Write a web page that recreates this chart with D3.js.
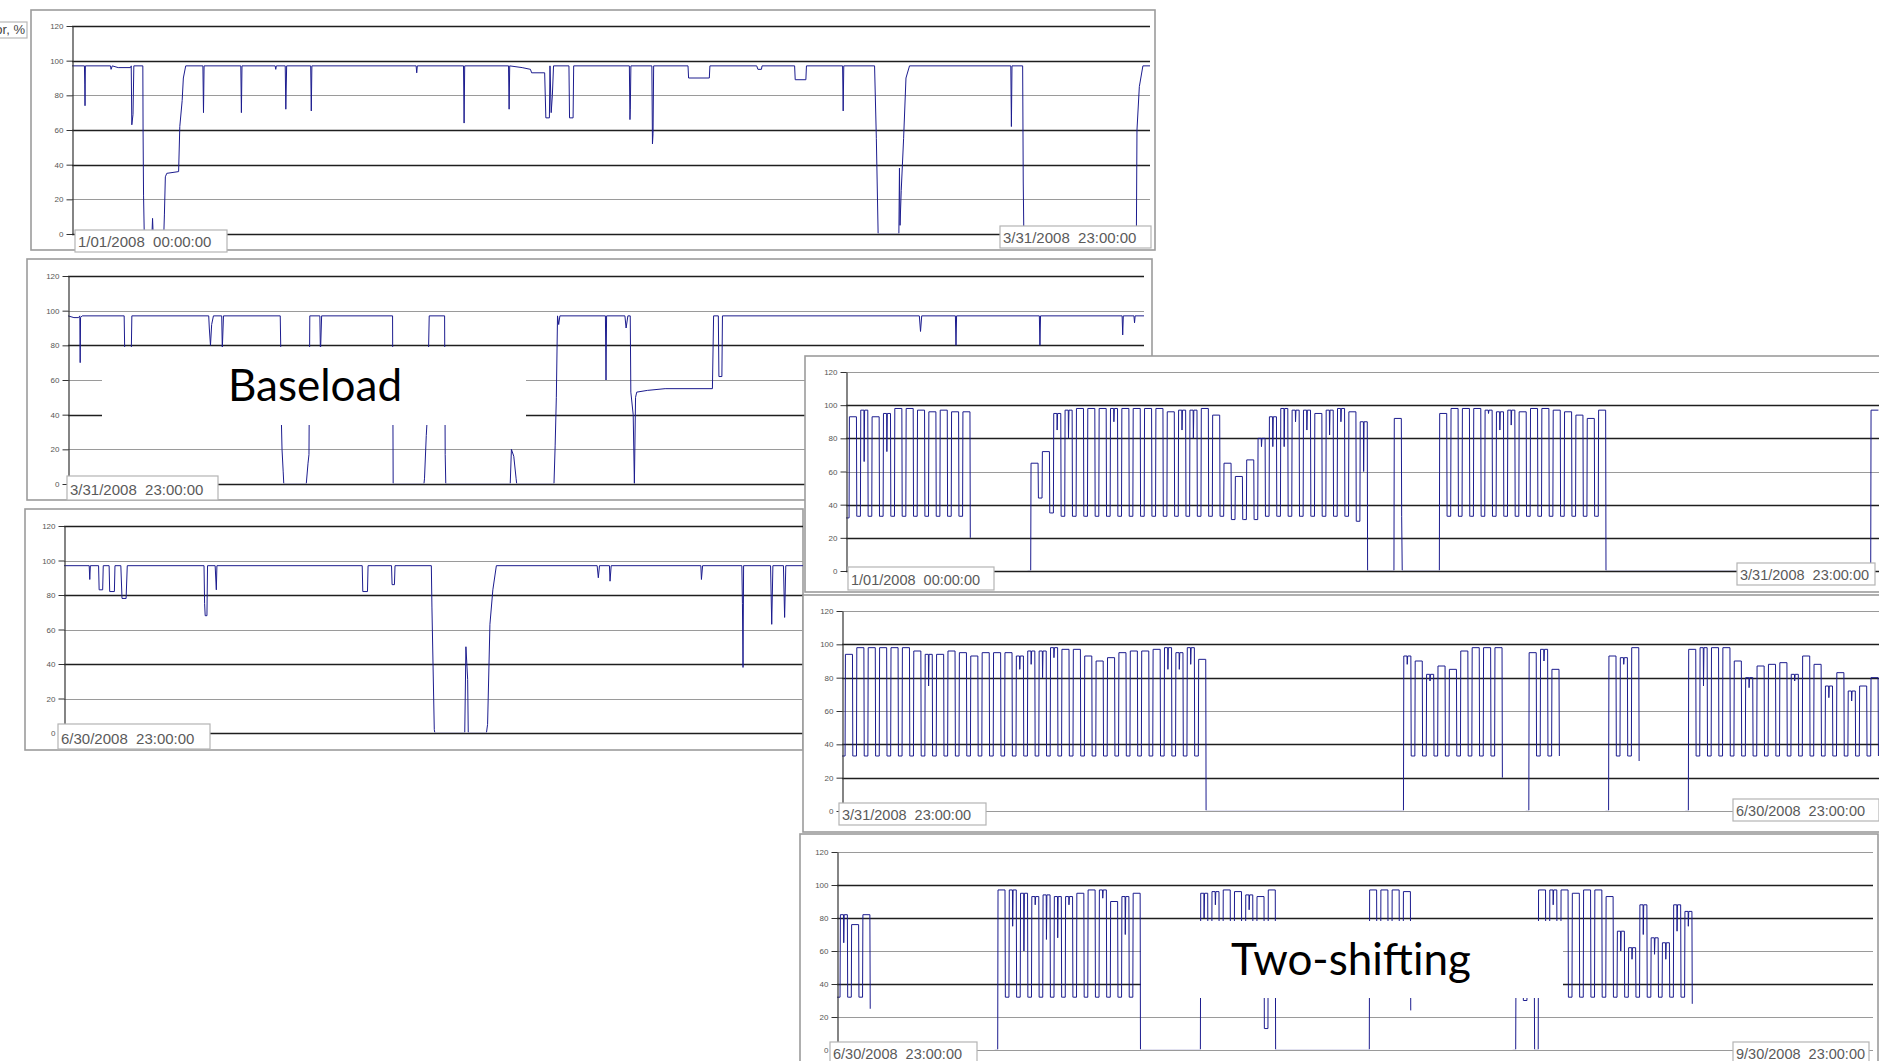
<!DOCTYPE html>
<html><head><meta charset="utf-8">
<script src="https://cdn.jsdelivr.net/npm/d3@7"></script>
<style>
body{margin:0;background:#fff;overflow:hidden}
svg{display:block}
</style>
</head><body>
<svg id="chart" width="1879" height="1061"></svg>
<script>
// ---------------- DATA ----------------
const yTicks = [0, 20, 40, 60, 80, 100, 120];
const axisTitle = "Load factor, %";
const dateLabels = ["1/01/2008  00:00:00", "3/31/2008  23:00:00", "6/30/2008  23:00:00", "9/30/2008  23:00:00"];
const groupTitles = ["Baseload", "Two-shifting"];
const quarterDays = [91, 91, 92];

// Baseload unit: [day of quarter, load factor %]
const baseQ1 = [[0,97],[1.05,97],[1.08,86],[1.1,74],[1.13,97],[3.25,97],[3.3,95],[3.4,97],[3.9,96],[4.95,96],[5.0,97],[5.05,63],[5.15,69],[5.22,97],[5.98,97],[6.0,60],[6.04,22],[6.1,0],[6.75,0],[6.8,9],[6.85,0],[7.75,0],[7.8,11],[7.88,33],[8.0,35],[9.0,36],[9.1,62],[9.3,77],[9.4,90],[9.6,97],
  [11.05,97],[11.1,70],[11.15,97],[14.25,97],[14.3,70],[14.35,97],[17.15,97],[17.2,95],[17.25,97],[18.0,97],[18.05,72],[18.12,97],[20.15,97],[20.2,71],[20.25,97],[29.05,97],[29.1,93],[29.15,97],[33.05,97],[33.1,64],[33.15,97],[36.85,97],[36.9,72],[36.95,97],[38.0,96],[38.7,95],[38.8,93],[39.9,93],[40.0,67],[40.3,67],[40.35,97],[40.45,70],[40.55,80],[40.65,97],[41.95,97],[42.0,67],[42.3,67],[42.35,97],
  [47.05,97],[47.1,66],[47.13,72],[47.18,97],[48.95,97],[49.0,52],[49.05,58],[49.1,97],[52.0,97],[52.05,90],[53.8,90],[53.85,97],[57.8,97],[57.9,95],[58.2,95],[58.25,97],[61.0,97],[61.05,89],[61.95,89],[62.0,97],[65.05,97],[65.1,71],[65.15,97],[67.75,97],[67.9,55],[68.05,0],[69.8,0],[69.85,38],[69.9,5],[70.0,25],[70.2,55],[70.4,90],[70.7,97],[79.25,97],[79.3,62],[79.35,97],[80.25,97],[80.3,30],[80.35,0],[89.85,0],[89.9,60],[90.1,85],[90.4,97],[91,97]];

const baseQ2 = [[0,97],[0.5,96],[0.9,96],[1.0,97],[1.03,70],[1.06,96],[1.2,97],[4.75,97],[4.8,75],[5.35,75],[5.4,97],[11.9,97],[11.95,90],[12.05,80],[12.15,92],[12.3,97],[13.0,97],[13.05,78],[13.15,97],[17.95,97],[18.0,75],[18.05,35],[18.1,20],[18.2,7],[18.25,0],[20.15,0],[20.3,12],[20.38,17],[20.45,97],[21.3,97],[21.35,75],[21.45,97],[27.45,97],[27.5,0],[30.1,0],[30.15,3],[30.3,28],[30.4,40],[30.5,80],[30.55,97],[31.85,97],[31.9,17],[31.95,0],[37.4,0],[37.5,20],[37.7,16],[37.9,3],[37.95,0],[41.1,0],[41.2,22],[41.3,50],[41.4,97],[41.5,92],[41.6,97],[45.45,97],[45.5,60],[45.55,97],
  [47.1,97],[47.2,90],[47.35,97],[47.55,97],[47.6,53],[47.8,40],[47.9,0],[48.0,50],[48.1,53],[49.0,54],[50.5,55],[54.5,55],[54.6,97],[55.0,97],[55.05,62],[55.3,62],[55.35,97],[72.0,97],[72.1,88],[72.2,97],[75.05,97],[75.1,80],[75.15,97],[82.15,97],[82.2,80],[82.25,97],[89.15,97],[89.2,86],[89.25,97],[90.15,97],[90.2,93],[90.25,97],[91,97]];

const baseQ3 = [[0,97],[2.15,97],[2.2,89],[2.25,97],[2.95,97],[3.0,83],[3.3,83],[3.35,97],[3.85,97],[3.9,82],[4.3,82],[4.35,97],[4.85,97],[4.95,78],[5.3,78],[5.4,97],[11.95,97],[12.0,75],[12.05,68],[12.2,68],[12.25,97],[12.9,97],[13.0,83],[13.05,97],[25.45,97],[25.5,82],[25.9,82],[25.95,97],[27.95,97],[28.0,86],[28.2,86],[28.25,97],[31.35,97],[31.4,73],[31.6,2],[31.65,0],[34.2,0],[34.3,50],[34.45,31],[34.5,0],[36.05,0],[36.15,5],[36.35,63],[36.6,83],[36.9,97],[45.5,97],[45.6,90],[45.7,97],[46.55,97],[46.6,88],[46.7,97],[54.35,97],[54.4,89],[54.5,97],[57.85,97],[57.9,75],[57.95,38],[58.0,97],[60.3,97],[60.4,63],[60.5,97],[61.4,97],[61.5,67],[61.6,97],[75.0,97],[75.1,90],[75.2,97],[92,97]];

// Two-shifting unit: daily peak, trough at end of day (null = no data, 0 = off), mid-day dips [day, value]
const twoQ1Peak = [93,97,93,95,98,98,97,96,97,96,96, null,null,null,null,null, 65,72,
  95,97,98,98,98,98,98,98,98,98,96,97,97,98,94,65,57,67,80,93,98,97,97,95,97,98,96,90,
  0,0,92,0,0,0, 95,98,98,98,97,96,97,96,98,98,97,96,94,92,97,
  0,0,0,0,0,0,0,0,0,0,0,0,0,0,0,0,0,0,0,0,0,0,0, 97];
const twoQ1Low = [33,33,33,33,33,33,33,33,33,33,20, null,null,null,null,null, 44,35,
  33,33,33,33,33,33,33,33,33,33,33,33,33,33,33,31,31,31,33,33,33,33,33,33,33,33,30,0,
  0,0,33,0,0,0, 33,33,33,33,33,33,33,33,33,33,33,33,33,33,0,
  0,0,0,0,0,0,0,0,0,0,0,0,0,0,0,0,0,0,0,0,0,0,0, 97];
const twoQ1Dip = [[1,66],[3,72],[18,85],[19,80],[23,90],[29,85],[30,80],[36,75],[37,75],[38,75],[39,90],[40,85],[42,82],[43,90],[45,60],[56,95],[57,85],[58,88]];

const twoQ2Peak = [94,98,98,98,98,98,96,94,94,96,95,93,95,95,95,93,96,96,98,97,97,93,90,92,95,96,96,97,98,95,98,91,
  0,0,0,0,0,0,0,0,0,0,0,0,0,0,0,0,0,
  93,90,82,87,85,96,98,98,98, null,null, 95,97,85, null,null,null,null, 93,92,98, null,null,null,null,
  97,98,98,98,90,80,87,88,89,82,93,88,75,83,72,75,80];
const twoQ2Low = [33,33,33,33,33,33,33,33,33,33,33,33,33,33,33,33,33,33,33,33,33,33,33,33,33,33,33,33,33,33,33,0,
  0,0,0,0,0,0,0,0,0,0,0,0,0,0,0,0,0,
  33,33,33,33,33,33,33,33,20, null,null, 33,33,33, null,null,null,null, 33,33,30, null,null,null,null,
  33,33,33,33,33,33,33,33,33,33,33,33,33,33,33,33,33];
const twoQ2Dip = [[7,75],[15,85],[16,88],[17,80],[18,92],[28,85],[29,85],[30,88],[49,88],[51,78],[61,90],[68,88],[75,75],[79,74],[83,78],[86,68],[88,66]];

const twoQ3Peak = [82,76,82, null,null,null,null,null,null,null,null,null,null,null,
  97,97,95,93,94,93,93,95,97,97,90,93,95, 0,0,0,0,0, 95,96,97,96,94,93,97, 0,0,0,0,0,0,0,0,
  97,97,97,96, null,null,null,null,null,null,null,null,null, 55,50,
  97,97,97,95,97,97,93, 72,62,88,68,65,88,84,
  null,null,null,null,null,null,null,null,null,null,null,null,null,null,null,null];
const twoQ3Low = [32,32,25, null,null,null,null,null,null,null,null,null,null,null,
  32,32,32,32,32,32,32,32,32,32,32,32,0, 0,0,0,0,0, 32,32,32,32,32,13,0, 0,0,0,0,0,0,0,0,
  32,32,32,24, null,null,null,null,null,null,null,null,null, 30,0,
  32,32,32,32,32,32,32, 32,32,32,32,32,32,28,
  null,null,null,null,null,null,null,null,null,null,null,null,null,null,null,null];
const twoQ3Dip = [[0,65],[15,75],[16,60],[17,88],[18,67],[19,68],[20,88],[23,92],[25,70],[32,80],[33,88],[36,85],[63,88],[69,60],[70,55],[71,70],[72,58],[73,55],[74,72],[75,75]];
const twoStartLevel = [32, 33, 32];

// ---------------- LAYOUT ----------------
const svg = d3.select("#chart");
const LINE = "#1c1c8e";

function cyclePoints(peaks, lows, dips, start) {
  const dipAt = new Map(dips);
  const pts = [];
  let prev = start;
  peaks.forEach((p, d) => {
    const low = lows[d];
    if (p === null) { pts.push(null); prev = 0; return; }
    if (p === 0) { pts.push([d, 0], [d + 1, 0]); prev = 0; return; }
    pts.push([d, prev], [d + 0.27, prev], [d + 0.30, p]);
    if (dipAt.has(d)) pts.push([d + 0.58, p], [d + 0.60, dipAt.get(d)], [d + 0.64, p]);
    pts.push([d + 0.92, p], [d + 0.95, low]);
    prev = low;
  });
  return pts;
}

const panels = [
  { pts: baseQ1, days: quarterDays[0], frame: [31, 10, 1124, 240], plot: [72, 1150, 26, 234], light: [80, 20],
    labels: [[dateLabels[0], 75, 230, 152, 22, 15], [dateLabels[1], 1000, 226, 151, 22, 15]] },
  { pts: baseQ2, days: quarterDays[1], frame: [27, 259, 1125, 241], plot: [68, 1144, 276, 484], light: [100, 60, 20],
    labels: [[dateLabels[1], 67, 476, 151, 24, 15]] },
  { pts: baseQ3, days: quarterDays[2], frame: [25, 509, 778, 241], plot: [64, 1142, 526, 733], light: [100, 60, 20],
    labels: [[dateLabels[2], 58, 724, 152, 25, 15]] },
  { pts: cyclePoints(twoQ1Peak, twoQ1Low, twoQ1Dip, twoStartLevel[0]), days: quarterDays[0], frame: [805, 356, 1100, 236], plot: [846, 1879, 372, 571], light: [120, 60],
    labels: [[dateLabels[0], 848, 567, 146, 23, 14.5], [dateLabels[1], 1737, 563, 138, 22, 14.5]] },
  { pts: cyclePoints(twoQ2Peak, twoQ2Low, twoQ2Dip, twoStartLevel[1]), days: quarterDays[1], frame: [803, 595, 1100, 237], plot: [842, 1879, 611, 811], light: [120, 60, 0],
    labels: [[dateLabels[1], 839, 803, 147, 22, 14.5], [dateLabels[2], 1733, 799, 146, 22, 14.5]] },
  { pts: cyclePoints(twoQ3Peak, twoQ3Low, twoQ3Dip, twoStartLevel[2]), days: quarterDays[2], frame: [800, 834, 1078, 240], plot: [837, 1873, 852, 1050], light: [120, 60, 20, 0],
    labels: [[dateLabels[2], 830, 1042, 147, 22, 14.5], [dateLabels[3], 1733, 1042, 136, 22, 14.5]] }
];

const defs = svg.append("defs");

panels.forEach((p, i) => {
  const [fx, fy, fw, fh] = p.frame;
  const [l, r, t, b] = p.plot;
  const g = svg.append("g");
  g.append("rect").attr("x", fx).attr("y", fy).attr("width", fw).attr("height", fh)
    .attr("fill", "#fff").attr("stroke", "#9c9c9c").attr("stroke-width", 1.6);

  const cw = Math.min(r, fx + fw) - l + 1;
  defs.append("clipPath").attr("id", "grid" + i).append("rect")
    .attr("x", l - 1).attr("y", fy).attr("width", cw).attr("height", fh);
  // data clip stops just above the zero line, where an idle unit sits hidden under the axis
  defs.append("clipPath").attr("id", "data" + i).append("rect")
    .attr("x", l - 1).attr("y", fy).attr("width", cw).attr("height", Math.round(b) - fy - 0.7);

  const x = d3.scaleLinear().domain([0, p.days]).range([l, r]);
  const y = d3.scaleLinear().domain([0, 120]).range([b, t]);

  g.append("g").attr("clip-path", `url(#grid${i})`)
    .selectAll("line").data(yTicks).join("line")
    .attr("x1", l).attr("x2", r)
    .attr("y1", d => Math.round(y(d)) + 0.5).attr("y2", d => Math.round(y(d)) + 0.5)
    .attr("stroke", d => p.light.includes(d) ? "#9a9a9a" : "#1e1e1e")
    .attr("stroke-width", d => p.light.includes(d) ? 1.2 : 1.4);

  g.append("g").attr("clip-path", `url(#data${i})`)
    .append("path").datum(p.pts)
    .attr("fill", "none").attr("stroke", LINE).attr("stroke-width", 1)
    .attr("d", d3.line().defined(d => d !== null).x(d => x(d[0])).y(d => y(d[1])));

  const ax = g.append("g").attr("transform", `translate(${l + 0.5},0)`)
    .call(d3.axisLeft(y).tickValues(yTicks).tickSize(6).tickSizeOuter(0).tickPadding(3));
  ax.select(".domain").attr("stroke", "#333").attr("stroke-width", 1.2);
  ax.selectAll(".tick line").attr("stroke", "#333");
  ax.selectAll(".tick text").attr("font-family", "Liberation Sans, Arial, sans-serif")
    .attr("font-size", 8).attr("fill", "#555");

  p.labels.forEach(([txt, bx, by, bw, bh, fs]) => {
    g.append("rect").attr("x", bx).attr("y", by).attr("width", bw).attr("height", bh)
      .attr("fill", "#fff").attr("stroke", "#b4b4b4").attr("stroke-width", 1.2);
    g.append("text").attr("x", bx + 3).attr("y", by + bh - 5)
      .style("white-space", "pre")
      .attr("font-family", "Liberation Sans, Arial, sans-serif").attr("font-size", fs)
      .attr("fill", "#5a5a5a").text(txt);
  });
});

// truncated y-axis title box at top-left (cut by the image edge, as in the reference)
svg.append("rect").attr("x", -80).attr("y", 22).attr("width", 107).attr("height", 16)
  .attr("fill", "#fff").attr("stroke", "#b8b8b8").attr("stroke-width", 1.2);
svg.append("text").attr("x", 25).attr("y", 34).attr("text-anchor", "end")
  .attr("font-family", "Liberation Sans, Arial, sans-serif").attr("font-size", 13)
  .attr("fill", "#444").text(axisTitle);

// group titles on white boxes
const titleBoxes = [[102, 347, 424, 78, 315, 401], [1141, 921, 422, 77, 1351, 975]];
titleBoxes.forEach(([bx, by, bw, bh, tx, ty], i) => {
  svg.append("rect").attr("x", bx).attr("y", by).attr("width", bw).attr("height", bh).attr("fill", "#fff");
  svg.append("text").attr("x", tx).attr("y", ty).attr("text-anchor", "middle")
    .attr("font-family", "Lato, 'Open Sans', sans-serif").attr("font-size", 44)
    .attr("fill", "#000").text(groupTitles[i]);
});
</script>
</body></html>
